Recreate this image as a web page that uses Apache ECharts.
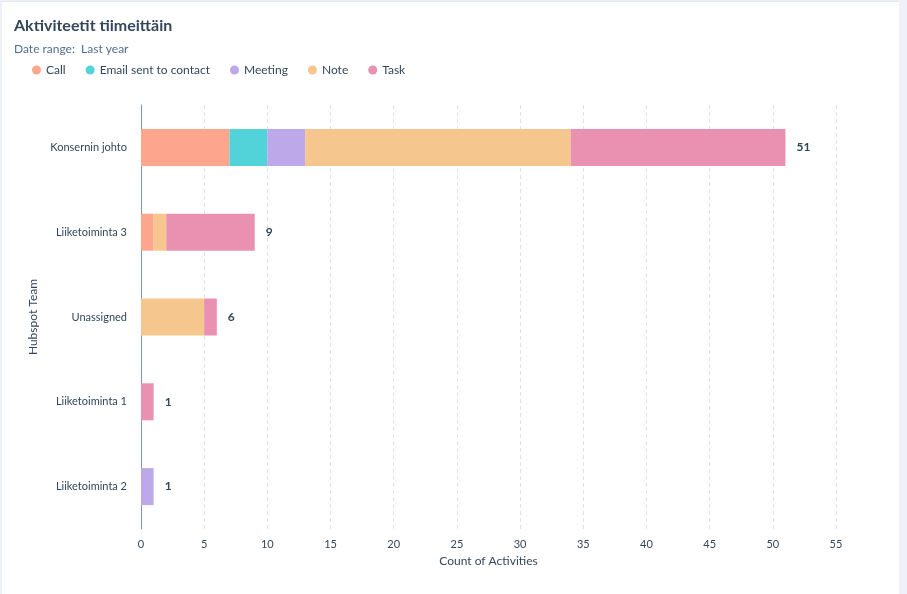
<!DOCTYPE html>
<html><head><meta charset="utf-8">
<script src="https://cdn.jsdelivr.net/npm/echarts@6/dist/echarts.min.js"></script>
<style>
html,body{margin:0;padding:0;background:#eef2f6;width:907px;height:594px;overflow:hidden;}
#card{position:absolute;left:2px;top:1px;width:897px;height:593px;background:#fff;border-top:1px solid #e3e8ee;box-sizing:border-box;}
#chart{position:absolute;left:0;top:0;width:907px;height:594px;}
</style></head>
<body><div id="card"></div><div id="chart"></div>
<script>
const categories = ['Konsernin johto','Liiketoiminta 3','Unassigned','Liiketoiminta 1','Liiketoiminta 2'];
const seriesNames = ['Call','Email sent to contact','Meeting','Note','Task'];
const callVals    = [7, 1, 0, 0, 0];
const emailVals   = [3, 0, 0, 0, 0];
const meetingVals = [3, 0, 0, 0, 1];
const noteVals    = [21, 1, 5, 0, 0];
const taskVals    = [17, 7, 1, 1, 0];
const totals = [51, 9, 6, 1, 1];
const xTicks = [0,5,10,15,20,25,30,35,40,45,50,55];
const colors = ['#fea58e','#51d3d9','#bda9ea','#f5c78e','#ea90b1'];
const allVals = [callVals, emailVals, meetingVals, noteVals, taskVals];
const font = 'Lato, "Open Sans", sans-serif';

const series = seriesNames.map((n,i)=>({
  name:n, type:'bar', stack:'total', barWidth:37,
  itemStyle:{color:colors[i]},
  data: allVals[i].map(v => v === 0 ? null : v)
}));
series.push({
  name:'__total', type:'bar', stack:'total', barWidth:37,
  data: totals.map(()=>0),
  itemStyle:{color:'transparent'},
  label:{show:true, position:'right', distance:11, formatter:(p)=>totals[p.dataIndex],
    color:'#33475b', fontWeight:'bold', fontSize:12, fontFamily:font},
  silent:true, tooltip:{show:false}
});

const chart = echarts.init(document.getElementById('chart'));
chart.setOption({
  animation:false,
  textStyle:{fontFamily:font},
  title:[{text:'Aktiviteetit tiimeittäin', left:14, top:18, padding:0,
    textStyle:{fontSize:16, fontWeight:'bold', color:'#33475b', fontFamily:font}},
    {text:'Date range:  Last year', left:14, top:43, padding:0,
    textStyle:{fontSize:12, fontWeight:'normal', color:'#516f90', fontFamily:font}}],
  legend:{data:seriesNames, left:32, top:64, padding:0, icon:'circle', itemWidth:9, itemHeight:9, itemGap:20,
    textStyle:{fontSize:12, color:'#33475b', fontFamily:font}},
  grid:{left:141, right:71, top:105, bottom:65, containLabel:false},
  xAxis:{type:'value', min:0, max:55, interval:5,
    name:'Count of Activities', nameLocation:'middle', nameGap:24,
    nameTextStyle:{fontSize:12, color:'#33475b', fontFamily:font},
    axisLine:{show:false}, axisTick:{show:false},
    axisLabel:{fontSize:11, color:'#33475b', margin:10, formatter:(v)=>xTicks.includes(v)?String(v):''},
    splitLine:{show:true, lineStyle:{type:[4,3], color:'#dfe3eb', width:1}}
  },
  yAxis:{type:'category', data:categories, inverse:true,
    name:'Hubspot Team', nameLocation:'middle', nameGap:101, nameRotate:90,
    nameTextStyle:{fontSize:12, color:'#33475b', fontFamily:font},
    axisLine:{show:true, lineStyle:{color:'#7c98b6', width:1}}, axisTick:{show:false},
    axisLabel:{fontSize:11, color:'#33475b', margin:14}
  },
  series:series
});
</script></body></html>
